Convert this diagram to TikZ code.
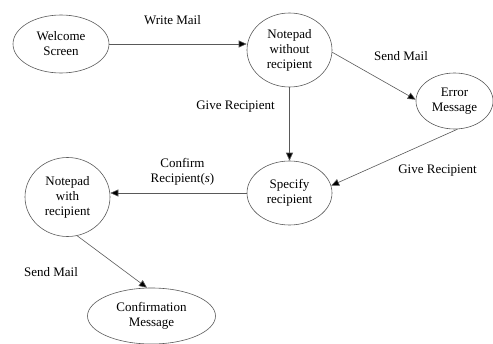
\documentclass[tikz,border=0pt]{standalone}
\usepackage{fontspec}
\setmainfont{Liberation Serif}
\usetikzlibrary{shapes.geometric,arrows.meta}
\begin{document}
\begin{tikzpicture}[x=1pt,y=-1pt,
  every node/.style={font=\fontsize{13}{15}\selectfont},
  state/.style={ellipse,draw=black!65,line width=0.6pt,inner sep=0pt,align=center},
  lbl/.style={align=center,inner sep=0pt},
  conn/.style={draw=black!65,line width=0.6pt,-{Triangle[length=8pt,width=7pt,fill=black]}}]
\useasboundingbox (0,0) rectangle (493,343);
\node[state,minimum width=96pt,minimum height=58pt] (ws) at (61,44) {Welcome\\Screen};
\node[state,minimum width=85pt,minimum height=74pt] (nw) at (289.5,50) {Notepad\\without\\recipient};
\node[state,minimum width=77pt,minimum height=56pt] (em) at (454.5,101) {Error\\Message};
\node[state,minimum width=85pt,minimum height=64pt] (sr) at (289.5,193) {Specify\\recipient};
\node[state,minimum width=85pt,minimum height=79pt] (nr) at (67.5,197) {Notepad\\with\\recipient};
\node[state,minimum width=128pt,minimum height=56pt] (cm) at (151.5,316) {Confirmation\\Message};
\draw[conn] (ws.east) -- (ws.east -| nw.west);
\draw[conn] (nw.-3) -- (em.178);
\draw[conn] (nw.south) -- (sr.north);
\draw[conn] (em.-84) -- (sr.10);
\draw[conn] (sr.west) -- (sr.west -| nr.east);
\draw[conn] (nr.-76) -- (cm.99);
\node[lbl] (l1) at (172.5,20) {Write Mail};
\node[lbl] (l2) at (401,56) {Send Mail};
\node[lbl] (l3) at (235.5,107) {Give Recipient};
\node[lbl] (l4) at (437.5,171) {Give Recipient};
\node[lbl] (l5) at (182.5,172) {Confirm\\Recipient(\textit{s})};
\node[lbl] (l6) at (51,272) {Send Mail};
\end{tikzpicture}
\end{document}
